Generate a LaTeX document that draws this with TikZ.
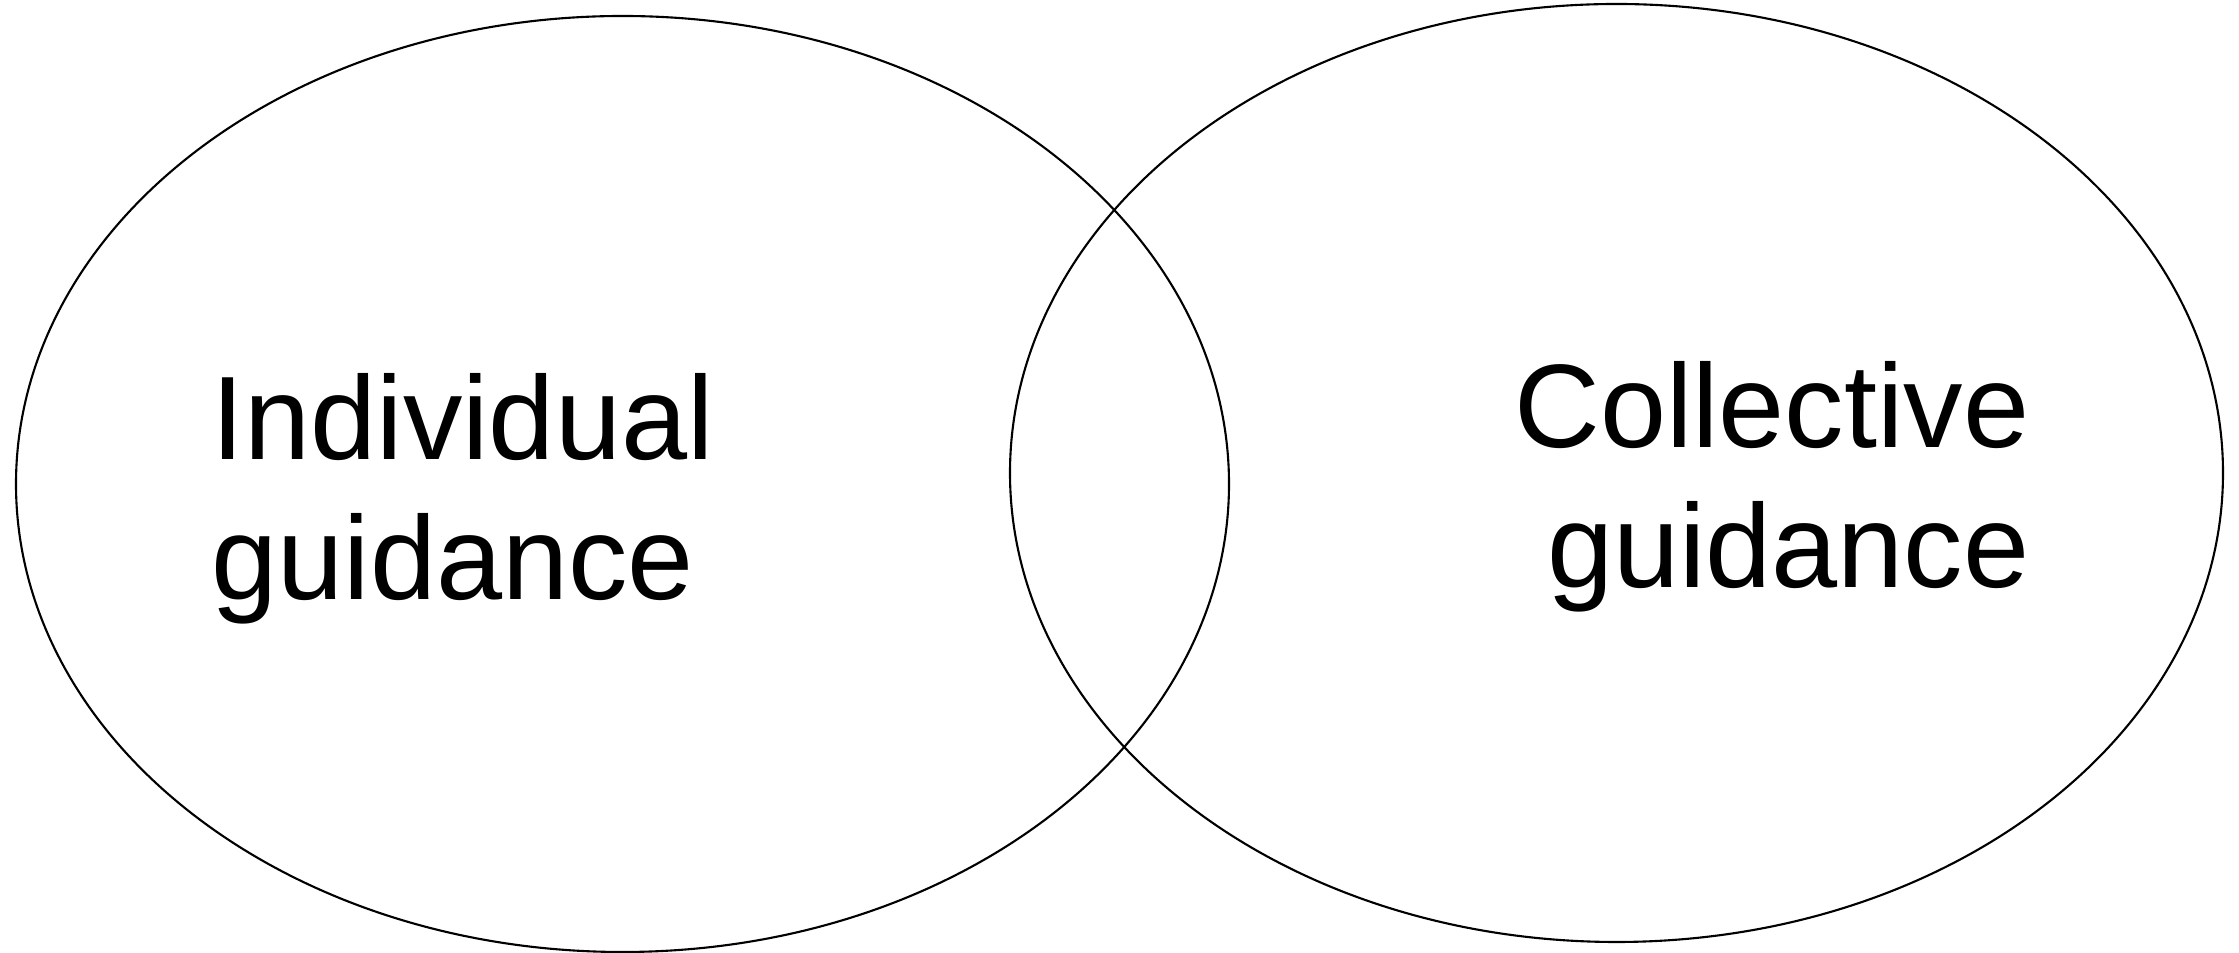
\documentclass[tikz,border=0pt]{standalone}
\usepackage{fontspec}
\newfontfamily\labelfont{Liberation Sans}
\usetikzlibrary{positioning}

\tikzset{
  ring/.style={line width=0.6pt},
  tag/.style={inner sep=0pt, font={\labelfont\fontsize{33.8}{40}\selectfont}}
}

\begin{document}
\begin{tikzpicture}
  \useasboundingbox (0,0) rectangle (22.39,9.53);

  % Two overlapping sets
  \draw[ring] (6.225,4.69) ellipse (6.065cm and 4.68cm);
  \draw[ring] (16.165,4.80) ellipse (6.065cm and 4.69cm);

  % Labels
  \node[tag, anchor=base west, align=left] at (2.11,3.53) (indiv) {Individual\\guidance};
  \node[tag, anchor=base east, align=right] at (20.30,3.65) (collect) {Collective\\guidance};
\end{tikzpicture}
\end{document}
